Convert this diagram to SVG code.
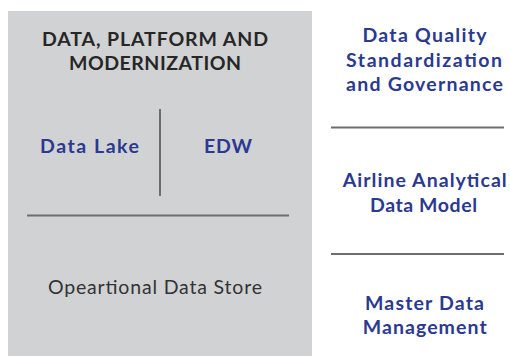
<svg xmlns="http://www.w3.org/2000/svg" width="510" height="356" viewBox="0 0 510 356">
<style>
.t{font-family:Lato,"Open Sans","Liberation Sans",sans-serif;text-anchor:middle}
.h{font-size:19.5px;font-weight:700;fill:#272727}
.b{font-size:19.5px;font-weight:700;fill:#2b3990}
.r{font-size:19.5px;font-weight:400;fill:#333333}
.ln{stroke:#6d6e71;stroke-width:2;fill:none}
</style>
<rect width="510" height="356" fill="#ffffff"/>
<g id="platform">
<rect x="8" y="11" width="304" height="345" fill="#d1d2d4"/>
<text class="t h" x="155" y="45.5" textLength="226" lengthAdjust="spacing">DATA, PLATFORM AND</text>
<text class="t h" x="155" y="69.5" textLength="172" lengthAdjust="spacing">MODERNIZATION</text>
</g>
<g id="data-lake">
<text class="t b" x="89.5" y="153" textLength="99" lengthAdjust="spacing">Data Lake</text>
</g>
<g id="edw">
<text class="t b" x="228" y="153" textLength="48" lengthAdjust="spacing">EDW</text>
</g>
<g id="ods">
<text class="t r" x="155" y="294" textLength="214" lengthAdjust="spacing">Opeartional Data Store</text>
</g>
<g id="dq">
<text class="t b" x="424.5" y="42" textLength="124" lengthAdjust="spacing">Data Quality</text>
<text class="t b" x="424" y="66.5" textLength="156" lengthAdjust="spacing">Standardization</text>
<text class="t b" x="424.5" y="91" textLength="157" lengthAdjust="spacing">and Governance</text>
</g>
<g id="aadm">
<text class="t b" x="424.7" y="187" textLength="164" lengthAdjust="spacing">Airline Analytical</text>
<text class="t b" x="423.5" y="211.5" textLength="107" lengthAdjust="spacing">Data Model</text>
</g>
<g id="mdm">
<text class="t b" x="424.5" y="310" textLength="119" lengthAdjust="spacing">Master Data</text>
<text class="t b" x="424.7" y="334" textLength="124" lengthAdjust="spacing">Management</text>
</g>
<g id="connectors">
<line class="ln" x1="160" y1="109" x2="160" y2="196" stroke-width="1.6"/>
<line class="ln" x1="27" y1="215.5" x2="289" y2="215.5"/>
<line class="ln" x1="331" y1="127.5" x2="504" y2="127.5" stroke-width="2.4"/>
<line class="ln" x1="331" y1="254" x2="504" y2="254" stroke-width="2.4"/>
</g>
</svg>
